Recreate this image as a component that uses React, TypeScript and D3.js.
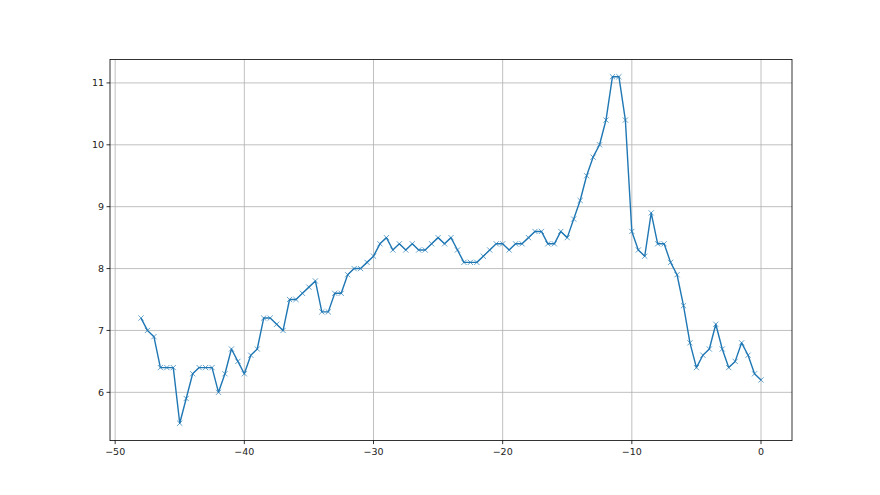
import React from 'react';
import * as d3 from 'd3';

// x positions (step of 0.5) and the values
const xs = [
  -48, -47.5, -47, -46.5, -46, -45.5, -45, -44.5, -44, -43.5, -43, -42.5, -42, -41.5, -41, -40.5,
  -40, -39.5, -39, -38.5, -38, -37.5, -37, -36.5, -36, -35.5, -35, -34.5, -34, -33.5, -33, -32.5,
  -32, -31.5, -31, -30.5, -30, -29.5, -29, -28.5, -28, -27.5, -27, -26.5, -26, -25.5, -25, -24.5,
  -24, -23.5, -23, -22.5, -22, -21.5, -21, -20.5, -20, -19.5, -19, -18.5, -18, -17.5, -17, -16.5,
  -16, -15.5, -15, -14.5, -14, -13.5, -13, -12.5, -12, -11.5, -11, -10.5, -10, -9.5, -9, -8.5,
  -8, -7.5, -7, -6.5, -6, -5.5, -5, -4.5, -4, -3.5, -3, -2.5, -2, -1.5, -1, -0.5, 0,
];

const ys = [
  7.2, 7.0, 6.9, 6.4, 6.4, 6.4, 5.5, 5.9, 6.3, 6.4, 6.4, 6.4, 6.0, 6.3, 6.7, 6.5,
  6.3, 6.6, 6.7, 7.2, 7.2, 7.1, 7.0, 7.5, 7.5, 7.6, 7.7, 7.8, 7.3, 7.3, 7.6, 7.6,
  7.9, 8.0, 8.0, 8.1, 8.2, 8.4, 8.5, 8.3, 8.4, 8.3, 8.4, 8.3, 8.3, 8.4, 8.5, 8.4,
  8.5, 8.3, 8.1, 8.1, 8.1, 8.2, 8.3, 8.4, 8.4, 8.3, 8.4, 8.4, 8.5, 8.6, 8.6, 8.4,
  8.4, 8.6, 8.5, 8.8, 9.1, 9.5, 9.8, 10.0, 10.4, 11.1, 11.1, 10.4, 8.6, 8.3, 8.2, 8.9,
  8.4, 8.4, 8.1, 7.9, 7.4, 6.8, 6.4, 6.6, 6.7, 7.1, 6.7, 6.4, 6.5, 6.8, 6.6, 6.3, 6.2,
];

const xTicks = [-50, -40, -30, -20, -10, 0];
const yTicks = [6, 7, 8, 9, 10, 11];

const W = 880;
const H = 495;
const left = 110;
const right = 792;
const top = 59.4;
const bottom = 440.6;
const blue = '#1f77b4';
const font = 'DejaVu Sans, sans-serif';

const App = () => {
  const data = xs.map((x, i) => ({ x, y: ys[i] }));

  // matplotlib-style 5% margins
  const [x0, x1] = d3.extent(xs) as [number, number];
  const [y0, y1] = d3.extent(ys) as [number, number];
  const px = (x1 - x0) * 0.05;
  const py = (y1 - y0) * 0.05;

  const x = d3.scaleLinear().domain([x0 - px, x1 + px]).range([left, right]);
  const y = d3.scaleLinear().domain([y0 - py, y1 + py]).range([bottom, top]);

  const line = d3.line<{ x: number; y: number }>()
    .x(d => x(d.x))
    .y(d => y(d.y));

  const fmt = d3.format('d');
  const m = 2.6; // marker half size

  return (
    <svg width={W} height={H} style={{ position: 'absolute', left: 0, top: 0 }} fontFamily={font}>
      <rect x={0} y={0} width={W} height={H} fill="#fff" />

      {/* grid */}
      <g stroke="#b0b0b0" strokeWidth={0.8}>
        {xTicks.map(t => (
          <line key={'gx' + t} x1={x(t)} x2={x(t)} y1={top} y2={bottom} />
        ))}
        {yTicks.map(t => (
          <line key={'gy' + t} x1={left} x2={right} y1={y(t)} y2={y(t)} />
        ))}
      </g>

      {/* series */}
      <path d={line(data) ?? ''} fill="none" stroke={blue} strokeWidth={1.4} strokeLinejoin="round" />
      <g stroke={blue} strokeWidth={0.8} opacity={0.85}>
        {data.map((d, i) => (
          <g key={i}>
            <line x1={x(d.x) - m} y1={y(d.y) - m} x2={x(d.x) + m} y2={y(d.y) + m} />
            <line x1={x(d.x) - m} y1={y(d.y) + m} x2={x(d.x) + m} y2={y(d.y) - m} />
          </g>
        ))}
      </g>

      {/* frame */}
      <rect x={left} y={top} width={right - left} height={bottom - top} fill="none" stroke="#000" strokeWidth={0.8} />

      {/* x axis */}
      <g fontSize={9.5} fill="#222">
        {xTicks.map(t => (
          <g key={'tx' + t} transform={`translate(${x(t)},${bottom})`}>
            <line y1={0} y2={3.5} stroke="#000" strokeWidth={0.8} />
            <text y={14} textAnchor="middle">{fmt(t)}</text>
          </g>
        ))}
      </g>

      {/* y axis */}
      <g fontSize={9.5} fill="#222">
        {yTicks.map(t => (
          <g key={'ty' + t} transform={`translate(${left},${y(t)})`}>
            <line x1={0} x2={-3.5} stroke="#000" strokeWidth={0.8} />
            <text x={-6} dy="0.35em" textAnchor="end">{fmt(t)}</text>
          </g>
        ))}
      </g>
    </svg>
  );
};

export default App;
